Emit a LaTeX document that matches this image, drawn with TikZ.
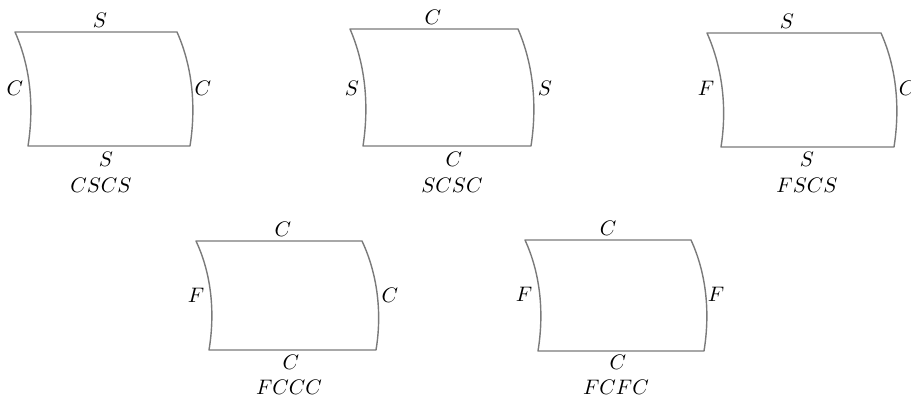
\documentclass[tikz,border=0pt]{standalone}
\begin{document}
\begin{tikzpicture}[x=0.5pt,y=-0.5pt,
  edge/.style={draw=black!52, line width=0.7pt, line join=round},
  lab/.style={inner sep=0pt, scale=1.05}]
\useasboundingbox (0,0) rectangle (911,399);
% panel 1 CSCS
\draw[edge] (15,32) -- (177,32) .. controls +(16,36) and +(6,-38) .. (190,146) -- (28,146) .. controls +(6,-38) and +(16,36) .. cycle;
\node[lab] (p1t) at (100,20) {$S$};
\node[lab] (p1l) at (15,88) {$C$};
\node[lab] (p1r) at (203,88) {$C$};
\node[lab] (p1b) at (106,159) {$S$};
\node[lab] (p1n) at (101,185) {$CSCS$};
% panel 2 SCSC
\draw[edge] (350,29) -- (518,29) .. controls +(16,37) and +(6,-39) .. (531,146) -- (363,146) .. controls +(6,-39) and +(16,37) .. cycle;
\node[lab] (p2t) at (433,17) {$C$};
\node[lab] (p2l) at (352,88) {$S$};
\node[lab] (p2r) at (545,88) {$S$};
\node[lab] (p2b) at (454,159) {$C$};
\node[lab] (p2n) at (452,185) {$SCSC$};
% panel 3 FSCS
\draw[edge] (707,33) -- (881,33) .. controls +(16,36) and +(6,-38) .. (894,147) -- (721,147) .. controls +(6,-38) and +(16,36) .. cycle;
\node[lab] (p3t) at (787,21) {$S$};
\node[lab] (p3l) at (706,88) {$F$};
\node[lab] (p3r) at (907,88) {$C$};
\node[lab] (p3b) at (807,159) {$S$};
\node[lab] (p3n) at (807,185) {$FSCS$};
% panel 4 FCCC
\draw[edge] (196,241) -- (362,241) .. controls +(16,34) and +(6,-36) .. (376,350) -- (209,350) .. controls +(6,-36) and +(16,34) .. cycle;
\node[lab] (p4t) at (283,229) {$C$};
\node[lab] (p4l) at (196,295) {$F$};
\node[lab] (p4r) at (390,295) {$C$};
\node[lab] (p4b) at (291,362) {$C$};
\node[lab] (p4n) at (289,387) {$FCCC$};
% panel 5 FCFC
\draw[edge] (525,240) -- (691,240) .. controls +(16,35) and +(6,-37) .. (704,351) -- (538,351) .. controls +(6,-37) and +(16,35) .. cycle;
\node[lab] (p5t) at (608,228) {$C$};
\node[lab] (p5l) at (524,294) {$F$};
\node[lab] (p5r) at (716,294) {$F$};
\node[lab] (p5b) at (618,362) {$C$};
\node[lab] (p5n) at (616,387) {$FCFC$};
\end{tikzpicture}
\end{document}
